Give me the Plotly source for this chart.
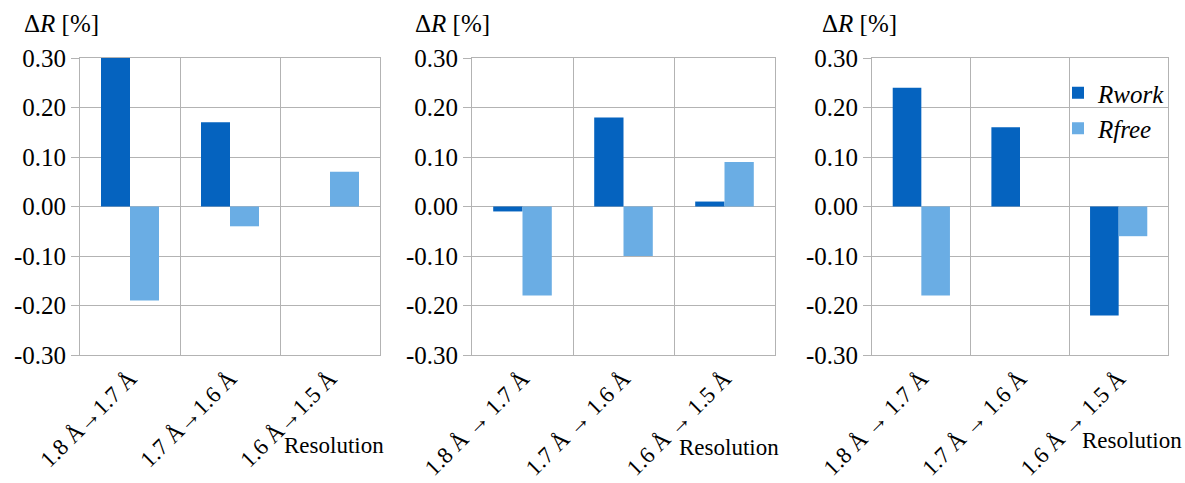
import plotly.graph_objects as go
from plotly.subplots import make_subplots

# ---- data ----
cats_p1 = ["1.8 Å→1.7 Å", "1.7 Å→1.6 Å", "1.6 Å→1.5 Å"]
cats_p23 = ["1.8 Å → 1.7 Å", "1.7 Å → 1.6 Å", "1.6 Å → 1.5 Å"]

rwork_p1 = [0.30, 0.17, 0.00]
rfree_p1 = [-0.19, -0.04, 0.07]
rwork_p2 = [-0.01, 0.18, 0.01]
rfree_p2 = [-0.18, -0.10, 0.09]
rwork_p3 = [0.24, 0.16, -0.22]
rfree_p3 = [-0.18, 0.00, -0.06]

y_tickvals = [-0.3, -0.2, -0.1, 0.0, 0.1, 0.2, 0.3]
y_ticktext = ["-0.30", "-0.20", "-0.10", "0.00", "0.10", "0.20", "0.30"]

series_names = ["<i>Rwork</i>", "<i>Rfree</i>"]
colors = ["#0563BF", "#6AADE4"]

W, H = 1185, 483
panels = [
    (cats_p1, rwork_p1, rfree_p1, (80, 380)),
    (cats_p23, rwork_p2, rfree_p2, (472, 775)),
    (cats_p23, rwork_p3, rfree_p3, (872, 1168)),
]

fig = make_subplots(rows=1, cols=3)
grid = "#b3b3b3"
serif = "Liberation Serif"

for i, (cats, rw, rf, (x0, x1)) in enumerate(panels, start=1):
    fig.add_trace(go.Bar(x=cats, y=rw, name=series_names[0], marker_color=colors[0],
                         marker_line_width=0, showlegend=(i == 3)), row=1, col=i)
    fig.add_trace(go.Bar(x=cats, y=rf, name=series_names[1], marker_color=colors[1],
                         marker_line_width=0, showlegend=(i == 3)), row=1, col=i)
    fig.update_xaxes(domain=[x0 / W, x1 / W], type="category", tickson="boundaries",
                     showgrid=True, gridcolor=grid, gridwidth=1, ticks="",
                     tickangle=-45, tickfont=dict(family=serif, size=23, color="black"),
                     showline=True, linecolor=grid, mirror=True, automargin=False,
                     row=1, col=i)
    fig.update_yaxes(domain=[1 - 355 / H, 1 - 58 / H], range=[-0.3, 0.3],
                     tickvals=y_tickvals, ticktext=y_ticktext,
                     showgrid=True, gridcolor=grid, gridwidth=1, zeroline=False,
                     ticks="outside", ticklen=8, tickcolor=grid,
                     tickfont=dict(family=serif, size=25, color="black"),
                     showline=True, linecolor=grid, mirror=True, automargin=False,
                     row=1, col=i)

title_x = [22, 413, 820]
res_x = [386, 781, 1184]
res_y = [445, 447, 440]
for tx, rx, ry in zip(title_x, res_x, res_y):
    fig.add_annotation(text="ΔR [%]".replace("R", "<i>R</i>"), xref="paper", yref="paper",
                       x=tx / W, y=1 - 24 / H, xanchor="left", yanchor="middle",
                       showarrow=False, font=dict(family=serif, size=25, color="black"))
    fig.add_annotation(text="Resolution", xref="paper", yref="paper",
                       x=rx / W, y=1 - ry / H, xanchor="right", yanchor="middle",
                       showarrow=False, font=dict(family=serif, size=23, color="black"))

fig.update_layout(
    width=W, height=H, margin=dict(l=0, r=0, t=0, b=0, autoexpand=False),
    paper_bgcolor="white", plot_bgcolor="white",
    barmode="group", bargap=0.42, bargroupgap=0,
    legend=dict(x=1058 / W, y=1 - 70 / H, xanchor="left", yanchor="top",
                bgcolor="rgba(0,0,0,0)", font=dict(family=serif, size=25, color="black"),
                itemwidth=30, tracegroupgap=0),
)

fig.write_html("out.html", config={"displayModeBar": False},
               post_script="document.body.style.margin='0';document.body.style.padding='0';")
